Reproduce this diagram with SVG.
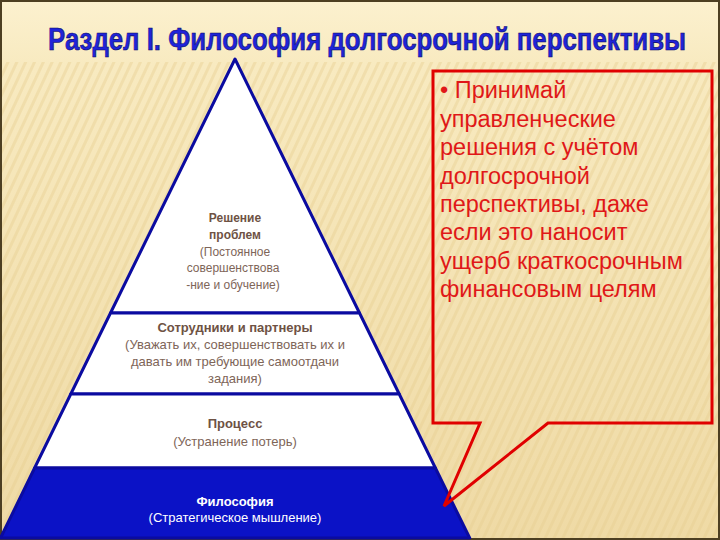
<svg xmlns="http://www.w3.org/2000/svg" width="720" height="540" viewBox="0 0 720 540">
  <style>
    .tb { font-family: "Liberation Sans", Arial, sans-serif; font-size: 12px; font-weight: bold; fill: #6e5244; text-anchor: middle; }
    .tn { font-family: "Liberation Sans", Arial, sans-serif; font-size: 12px; fill: #7e6558; text-anchor: middle; }
    .m { font-size: 13px; }
    .w { fill: #ffffff; }
    .tier { fill: #ffffff; stroke: #0b0ba0; stroke-width: 3; stroke-linejoin: round; }
    .base { fill: #0b12c6; stroke: #0b0ba0; stroke-width: 3; stroke-linejoin: round; }
    .call { font-family: "Liberation Sans", Arial, sans-serif; font-size: 23.5px; fill: #e01818; }
    .title { font-family: "Liberation Sans", Arial, sans-serif; font-size: 32px; font-weight: bold; fill: #1f24d8; stroke: #0a0a60; stroke-width: 0.6; }
  </style>
  <defs>
    <linearGradient id="bg" x1="0" y1="0" x2="0" y2="1">
      <stop offset="0" stop-color="#fcf1cf"/>
      <stop offset="0.12" stop-color="#f8eac0"/>
      <stop offset="1" stop-color="#efdaa5"/>
    </linearGradient>
    <pattern id="stripes" width="8" height="8" patternUnits="userSpaceOnUse" patternTransform="rotate(25)">
      <rect width="3" height="8" fill="#e6cc8e" opacity="0.4"/>
    </pattern>
  </defs>

  <g id="background">
    <rect x="0" y="0" width="720" height="540" fill="url(#bg)"/>
    <rect x="0" y="62" width="720" height="478" fill="url(#stripes)"/>
    <rect x="1" y="1" width="718" height="538" fill="none" stroke="#4d3f22" stroke-width="2"/>
  </g>

  <g id="title">
    <text class="title" x="0" y="0" transform="translate(48,50) scale(0.815,1)" textLength="783" lengthAdjust="spacingAndGlyphs">Раздел I. Философия долгосрочной перспективы</text>
  </g>

  <g id="tier-problems">
    <polygon class="tier" points="235,59 359.5,313 110.5,313"/>
    <text class="tb" x="235" y="222">Решение</text>
    <text class="tb" x="235" y="239">проблем</text>
    <text class="tn" x="235" y="256">(Постоянное</text>
    <text class="tn" x="233" y="272">совершенствова</text>
    <text class="tn" x="233" y="289">-ние и обучение)</text>
  </g>

  <g id="tier-people">
    <polygon class="tier" points="110.5,313 359.5,313 399.2,394 70.8,394"/>
    <text class="tb m" x="235" y="332">Сотрудники и партнеры</text>
    <text class="tn m" x="235" y="349">(Уважать их, совершенствовать их и</text>
    <text class="tn m" x="235" y="366">давать им требующие самоотдачи</text>
    <text class="tn m" x="235" y="383">задания)</text>
  </g>

  <g id="tier-process">
    <polygon class="tier" points="70.8,394 399.2,394 435.4,468 34.6,468"/>
    <text class="tb m" x="235" y="428">Процесс</text>
    <text class="tn m" x="235" y="446">(Устранение потерь)</text>
  </g>

  <g id="tier-philosophy">
    <polygon class="base" points="34.6,468 435.4,468 469.7,538 0.5,538"/>
    <text class="tb m w" x="235" y="506">Философия</text>
    <text class="tn m w" x="235" y="522">(Стратегическое мышление)</text>
  </g>

  <g id="callout">
    <path d="M433,71 H712 V423 H548 L444,506 L480,423 H433 Z" fill="none" stroke="#e00000" stroke-width="3" stroke-linejoin="miter"/>
    <text class="call" x="440" y="98">• Принимай</text>
    <text class="call" x="440" y="126.5">управленческие</text>
    <text class="call" x="440" y="155">решения с учётом</text>
    <text class="call" x="440" y="183.5">долгосрочной</text>
    <text class="call" x="440" y="212">перспективы, даже</text>
    <text class="call" x="440" y="240">если это наносит</text>
    <text class="call" x="440" y="268.5">ущерб краткосрочным</text>
    <text class="call" x="440" y="297">финансовым целям</text>
  </g>

  <g id="connectors"></g>
</svg>
